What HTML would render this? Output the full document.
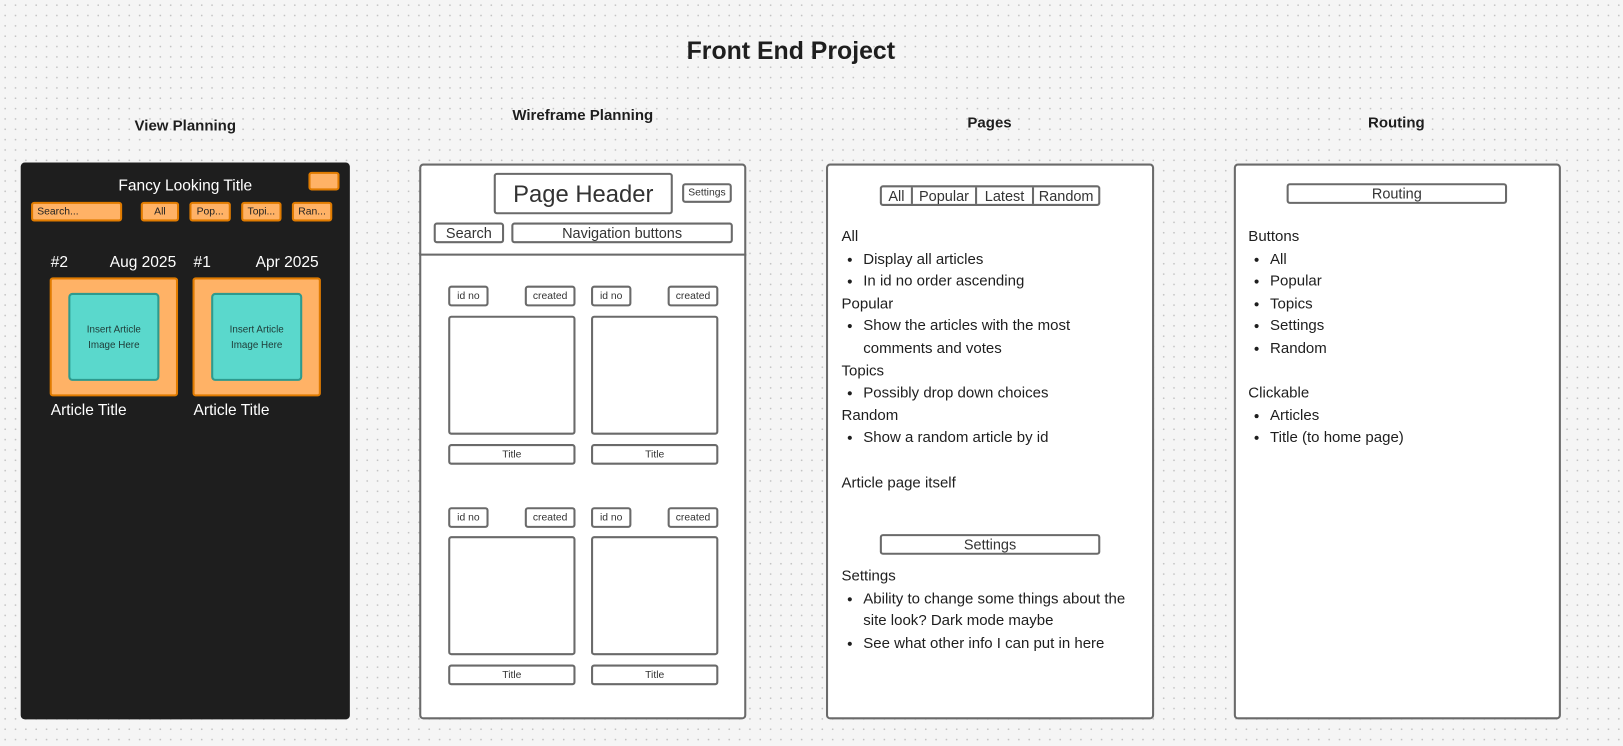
<!DOCTYPE html>
<html><head><meta charset="utf-8"><style>
html,body{margin:0;padding:0;}
body{width:1623px;height:746px;overflow:hidden;background:#f5f5f5;background-image:radial-gradient(#c4c4c4 0.9px,transparent 1px);background-size:10.35px 10.35px;font-family:"Liberation Sans",sans-serif;}
#s{position:absolute;left:0;top:0;width:1568px;height:721px;transform:scale(1.03508);transform-origin:0 0;}
.a{position:absolute;box-sizing:border-box;}
.h{position:absolute;font-weight:bold;color:#1e1e1e;transform:translateX(-50%);white-space:nowrap;}
.p{background:#fff;border:2px solid #6a6a6a;border-radius:4px;}
.b{border:2px solid #6a6a6a;border-radius:3px;background:#fff;display:flex;align-items:center;justify-content:center;color:#333;font-size:10px;}
.o{background:#ffb266;border:2px solid #e07b00;border-radius:3px;display:flex;align-items:center;justify-content:center;color:#222;font-size:10px;}
.t{position:absolute;color:#1e1e1e;font-size:14.5px;line-height:21.6px;}
.t ul{margin:0;padding-left:21px;}
.w{color:#fff;position:absolute;font-size:15px;}
</style></head><body><div id="s">
<div class="h" style="left:764px;top:36px;font-size:24px;">Front End Project</div>
<div class="h" style="left:179px;top:114px;font-size:14.5px;">View Planning</div>
<div class="h" style="left:563px;top:104px;font-size:14.5px;">Wireframe Planning</div>
<div class="h" style="left:956px;top:111px;font-size:14.5px;">Pages</div>
<div class="h" style="left:1349px;top:111px;font-size:14.5px;">Routing</div>

<div class="a" style="left:20px;top:157px;width:318px;height:538px;background:#1e1e1e;border-radius:4px;"></div>
<div class="a o" style="left:298px;top:166px;width:30px;height:18px;"></div>
<div class="w" style="left:179px;top:171px;transform:translateX(-50%);">Fancy Looking Title</div>
<div class="a o" style="left:30px;top:195px;width:88px;height:19px;justify-content:flex-start;padding-left:4px;">Search...</div>
<div class="a o" style="left:136px;top:195px;width:37px;height:19px;">All</div>
<div class="a o" style="left:183px;top:195px;width:40px;height:19px;">Pop...</div>
<div class="a o" style="left:233px;top:195px;width:39px;height:19px;">Topi...</div>
<div class="a o" style="left:282px;top:195px;width:39px;height:19px;">Ran...</div>
<div class="w" style="left:49px;top:245px;">#2</div>
<div class="w" style="left:106px;top:245px;">Aug 2025</div>
<div class="w" style="left:187px;top:245px;">#1</div>
<div class="w" style="left:247px;top:245px;">Apr 2025</div>
<div class="a o" style="left:48px;top:268px;width:124px;height:115px;"></div>
<div class="a o" style="left:186px;top:268px;width:124px;height:115px;"></div>
<div class="a" style="left:66px;top:283px;width:88px;height:85px;background:#5ad8cc;border:2px solid #2e9a8e;border-radius:4px;display:flex;align-items:center;justify-content:center;text-align:center;font-size:9.5px;line-height:15px;color:#1e3a36;">Insert Article<br>Image Here</div>
<div class="a" style="left:204px;top:283px;width:88px;height:85px;background:#5ad8cc;border:2px solid #2e9a8e;border-radius:4px;display:flex;align-items:center;justify-content:center;text-align:center;font-size:9.5px;line-height:15px;color:#1e3a36;">Insert Article<br>Image Here</div>
<div class="w" style="left:49px;top:388px;">Article Title</div>
<div class="w" style="left:187px;top:388px;">Article Title</div>

<div class="a p" style="left:405px;top:158px;width:316px;height:537px;"></div>
<div class="a" style="left:405px;top:245px;width:316px;height:2px;background:#6a6a6a;"></div>
<div class="a b" style="left:477px;top:167px;width:173px;height:40px;font-size:23px;">Page Header</div>
<div class="a b" style="left:659px;top:177px;width:48px;height:19px;">Settings</div>
<div class="a b" style="left:419px;top:215px;width:68px;height:20px;font-size:14px;">Search</div>
<div class="a b" style="left:494px;top:215px;width:214px;height:20px;font-size:14px;">Navigation buttons</div>
<div class="a b" style="left:433px;top:276px;width:39px;height:20px;">id no</div>
<div class="a b" style="left:507px;top:276px;width:49px;height:20px;">created</div>
<div class="a b" style="left:571px;top:276px;width:39px;height:20px;">id no</div>
<div class="a b" style="left:645px;top:276px;width:49px;height:20px;">created</div>
<div class="a b" style="left:433px;top:305px;width:123px;height:115px;"></div>
<div class="a b" style="left:571px;top:305px;width:123px;height:115px;"></div>
<div class="a b" style="left:433px;top:429px;width:123px;height:20px;">Title</div>
<div class="a b" style="left:571px;top:429px;width:123px;height:20px;">Title</div>
<div class="a b" style="left:433px;top:490px;width:39px;height:20px;">id no</div>
<div class="a b" style="left:507px;top:490px;width:49px;height:20px;">created</div>
<div class="a b" style="left:571px;top:490px;width:39px;height:20px;">id no</div>
<div class="a b" style="left:645px;top:490px;width:49px;height:20px;">created</div>
<div class="a b" style="left:433px;top:518px;width:123px;height:115px;"></div>
<div class="a b" style="left:571px;top:518px;width:123px;height:115px;"></div>
<div class="a b" style="left:433px;top:642px;width:123px;height:20px;">Title</div>
<div class="a b" style="left:571px;top:642px;width:123px;height:20px;">Title</div>

<div class="a p" style="left:798px;top:158px;width:317px;height:537px;"></div>
<div class="a b" style="left:850px;top:179px;width:213px;height:20px;font-size:14px;justify-content:flex-start;padding:0;">
<span style="width:28px;text-align:center;border-right:2px solid #6a6a6a;">All</span><span style="width:60px;text-align:center;border-right:2px solid #6a6a6a;">Popular</span><span style="width:53px;text-align:center;border-right:2px solid #6a6a6a;">Latest</span><span style="flex:1;text-align:center;">Random</span></div>
<div class="t" style="left:813px;top:219px;width:280px;">All<ul><li>Display all articles</li><li>In id no order ascending</li></ul>Popular<ul><li>Show the articles with the most comments and votes</li></ul>Topics<ul><li>Possibly drop down choices</li></ul>Random<ul><li>Show a random article by id</li></ul><br>Article page itself</div>
<div class="a b" style="left:850px;top:516px;width:213px;height:20px;font-size:14px;">Settings</div>
<div class="t" style="left:813px;top:547px;width:295px;">Settings<ul><li>Ability to change some things about the site look? Dark mode maybe</li><li>See what other info I can put in here</li></ul></div>

<div class="a p" style="left:1192px;top:158px;width:316px;height:537px;"></div>
<div class="a b" style="left:1243px;top:177px;width:213px;height:20px;font-size:14px;">Routing</div>
<div class="t" style="left:1206px;top:219px;">Buttons<ul><li>All</li><li>Popular</li><li>Topics</li><li>Settings</li><li>Random</li></ul><br>Clickable<ul><li>Articles</li><li>Title (to home page)</li></ul></div>
</div></body></html>
